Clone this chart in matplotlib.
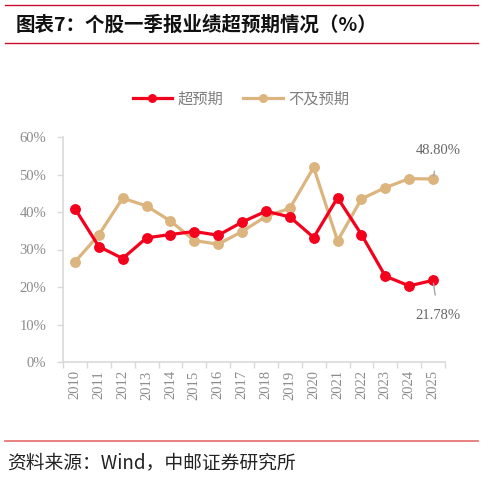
import matplotlib
matplotlib.use("Agg")
import matplotlib.pyplot as plt
from matplotlib.lines import Line2D
import numpy as np

years = ["2010", "2011", "2012", "2013", "2014", "2015", "2016", "2017",
         "2018", "2019", "2020", "2021", "2022", "2023", "2024", "2025"]
beat = [40.9, 30.8, 27.6, 33.1, 34.0, 34.8, 33.8, 37.3,
        40.2, 38.7, 33.2, 43.8, 34.0, 22.9, 20.3, 21.78]
miss = [26.7, 33.9, 43.7, 41.6, 37.6, 32.4, 31.4, 34.8,
        38.8, 41.0, 51.9, 32.3, 43.5, 46.5, 48.9, 48.80]
series_names = ["超预期", "不及预期"]
yticks = [0, 10, 20, 30, 40, 50, 60]
title = "图表7：个股一季报业绩超预期情况（%）"
source = "资料来源：Wind，中邮证券研究所"

RED = "#F5001C"
TAN = "#DCB47E"
GRAY = "#8C8C8C"
AXIS = "#D9D9D9"

cjk = ["Noto Sans CJK SC", "DejaVu Sans"]
serif = ["Liberation Serif", "DejaVu Serif"]

fig = plt.figure(figsize=(4.84, 4.78), dpi=100)
W, H = 484, 478

# header lines and title
fig.add_artist(Line2D([5 / W, 478 / W], [1 - 5 / H, 1 - 5 / H], color="#C8102E", lw=1.0))
fig.add_artist(Line2D([5 / W, 478 / W], [1 - 43 / H, 1 - 43 / H], color="#C8102E", lw=1.0))
fig.text(16 / W, 1 - 25 / H, title, family=cjk, fontweight="bold", fontsize=14,
         va="center", ha="left", color="#111111")
fig.add_artist(Line2D([5 / W, 478 / W], [1 - 441 / H, 1 - 441 / H], color="#E46C6C", lw=1.2))
fig.text(7 / W, 1 - 463 / H, source, family=cjk, fontsize=13.5, va="center", ha="left",
         color="#222222")

ax = fig.add_axes([63 / W, 1 - 362 / H, (445 - 63) / W, (362 - 137) / H])
x = np.arange(len(years))
ax.plot(x, beat, color=RED, lw=2.3, marker="o", ms=6.8, label=series_names[0], zorder=3)
ax.plot(x, miss, color=TAN, lw=2.3, marker="o", ms=6.8, label=series_names[1], zorder=2)

ax.set_xlim(-0.5, len(years) - 0.5)
ax.set_ylim(0, 60)
ax.set_yticks(yticks)
ax.set_yticklabels([f"{v}%" for v in yticks], family=serif, fontsize=10.5, color=GRAY)
ax.set_xticks(x)
ax.set_xticklabels(years, rotation=90, family=serif, fontsize=10.5, color=GRAY)
ax.tick_params(axis="x", which="major", length=0, pad=6)
ax.set_xticks(np.arange(-0.5, len(years), 1.0), minor=True)
ax.tick_params(axis="x", which="minor", length=4, color=AXIS, width=1)
ax.tick_params(axis="y", length=4, color=AXIS, width=1, pad=8)
for s in ["top", "right"]:
    ax.spines[s].set_visible(False)
for s in ["left", "bottom"]:
    ax.spines[s].set_color(AXIS)
    ax.spines[s].set_linewidth(1.2)

# annotations for last values
ax.annotate(f"{miss[-1]:.2f}%", xy=(x[-1], miss[-1]), xytext=(5, 28),
            textcoords="offset pixels", ha="center", va="center",
            family=serif, fontsize=10.5, color="#666666",
            arrowprops=dict(arrowstyle="-", color="#A6A6A6", lw=1.0, shrinkA=8, shrinkB=2))
ax.annotate(f"{beat[-1]:.2f}%", xy=(x[-1], beat[-1]), xytext=(5, -35),
            textcoords="offset pixels", ha="center", va="center",
            family=serif, fontsize=10.5, color="#666666",
            arrowprops=dict(arrowstyle="-", color="#A6A6A6", lw=1.0, shrinkA=8, shrinkB=2))

leg = ax.legend(loc="center", bbox_to_anchor=(241 / W, 1 - 99 / H),
                bbox_transform=fig.transFigure, ncol=2, frameon=False,
                prop={"family": cjk, "size": 11}, handlelength=2.6,
                columnspacing=1.3, handletextpad=0.35, markerscale=0.8)
for t in leg.get_texts():
    t.set_color("#7F7F7F")

fig.savefig("out.png", dpi=100)
